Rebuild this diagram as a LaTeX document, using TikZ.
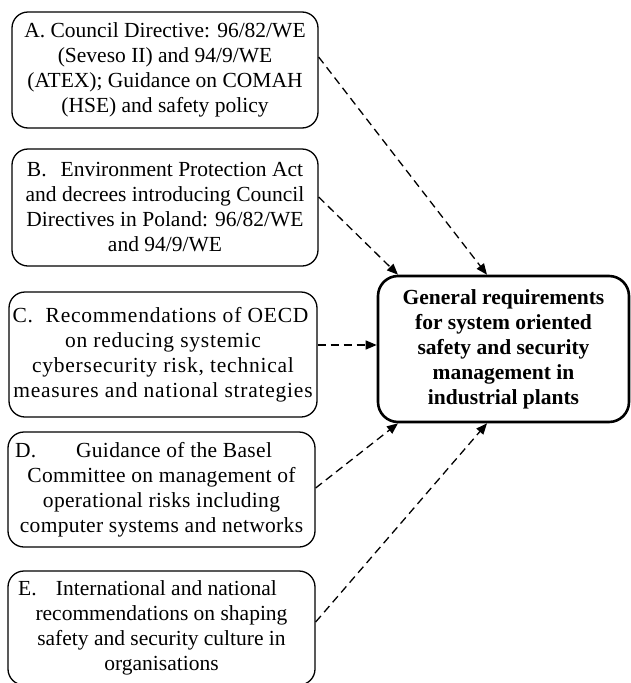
\documentclass[tikz,border=0pt]{standalone}
\usepackage{fontspec}
\setmainfont{Liberation Serif}
\usetikzlibrary{arrows.meta}
\tikzset{
  srcbox/.style={draw, line width=1.3pt, rounded corners=16pt, inner sep=0pt, align=center,
    font=\fontsize{21.5}{25}\selectfont},
  mainbox/.style={draw, line width=2.6pt, rounded corners=20pt, inner sep=0pt, align=center,
    font=\fontsize{21.5}{25}\selectfont\bfseries, minimum width=251pt, minimum height=146pt},
  conn/.style={line width=1.3pt, dash pattern=on 8pt off 5pt, -{Triangle[length=11pt,width=9pt]}}
}
\begin{document}
\begin{tikzpicture}[x=1pt,y=-1pt]
\useasboundingbox (0,0) rectangle (630,683);
\node[srcbox, minimum width=306pt, minimum height=116pt] (A) at (165,70)
  {A. Council Directive: 96/82/WE\\(Seveso II) and 94/9/WE\\(ATEX); Guidance on COMAH\\(HSE) and safety policy};
\node[srcbox, minimum width=306pt, minimum height=117pt] (B) at (165,207.5)
  {B.\hspace{0.65em}Environment Protection Act\\and decrees introducing Council\\Directives in Poland: 96/82/WE\\and 94/9/WE};
\node[srcbox, minimum width=308pt, minimum height=125pt,
  font=\fontsize{21.5}{25}\selectfont\addfontfeature{LetterSpace=3.6}] (C) at (163,354.5)
  {C.\hspace{0.3em} Recommendations of OECD\hspace*{5pt}\\on reducing systemic\\cybersecurity risk, technical\\measures and national strategies};
\node[srcbox, minimum width=307pt, minimum height=115pt,
  font=\fontsize{21.5}{25}\selectfont\addfontfeature{LetterSpace=1.5}] (D) at (161.5,489.5)
  {D.\hspace{1.85em}Guidance of the Basel\hspace*{36pt}\\Committee on management of\\operational risks including\\computer systems and networks};
\node[srcbox, minimum width=307pt, minimum height=114pt] (E) at (161.5,628)
  {E.\hspace{0.9em}International and national\hspace*{28pt}\\recommendations on shaping\\safety and security culture in\\organisations};
\node[mainbox] (M) at (503.5,349)
  {General requirements\\for system oriented\\safety and security\\management in\\industrial plants};
\draw[conn] ([yshift=13pt]A.east) -- ([xshift=-16.5pt]M.north);
\draw[conn] ([yshift=10.5pt]B.east) -- ([xshift=-105.5pt]M.north);
\draw[conn] ([yshift=9.5pt]C.east) -- ([yshift=4pt]M.west);
\draw[conn] ([yshift=1.5pt]D.east) -- ([xshift=-105.5pt]M.south);
\draw[conn] ([yshift=6pt]E.east) -- ([xshift=-16.5pt]M.south);
\end{tikzpicture}
\end{document}
